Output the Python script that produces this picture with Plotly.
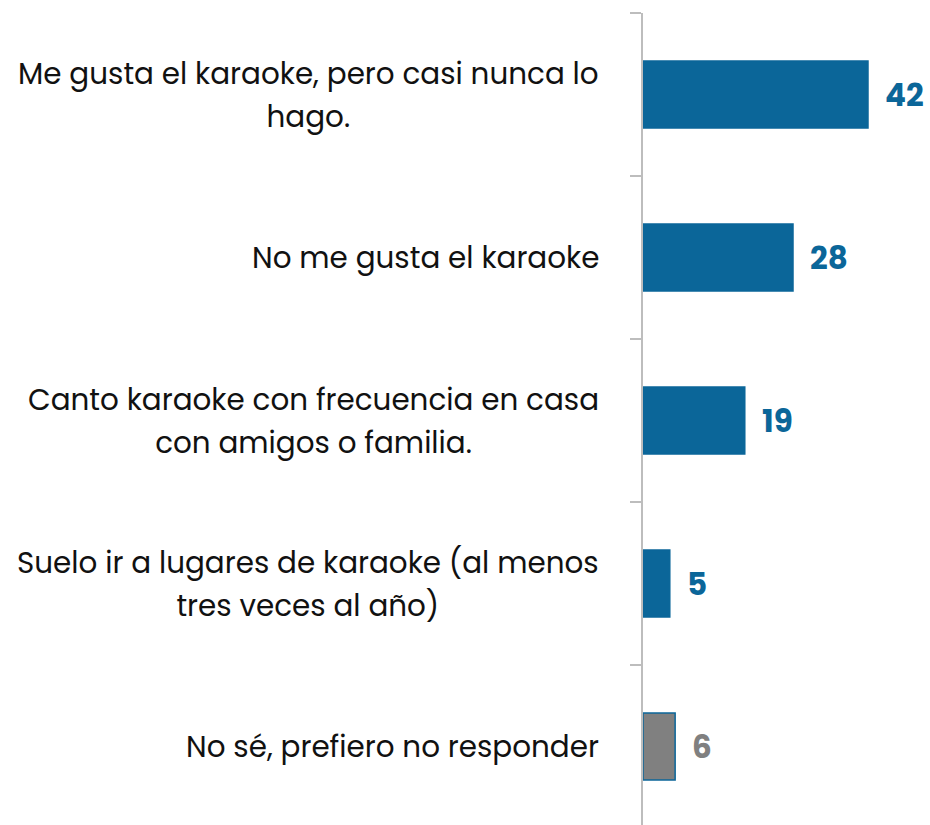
import plotly.graph_objects as go

# Survey answers about karaoke habits (%)
categories = [
    "Me gusta el karaoke, pero casi nunca lo<br>hago.",
    "No me gusta el karaoke",
    "Canto karaoke con frecuencia en casa<br>con amigos o familia.",
    "Suelo ir a lugares de karaoke (al menos<br>tres veces al año)",
    "No sé, prefiero no responder",
]
values = [42, 28, 19, 5, 6]
bar_colors = ["#0b6699", "#0b6699", "#0b6699", "#0b6699", "#808080"]
label_colors = ["#0b6699", "#0b6699", "#0b6699", "#0b6699", "#808080"]

FONT = "Poppins, Open Sans, sans-serif"
keys = [f"c{i}" for i in range(len(categories))]

fig = go.Figure(
    go.Bar(
        x=values,
        y=keys,
        orientation="h",
        width=0.41,
        marker=dict(color=bar_colors, line=dict(color="#0b6699", width=1.5)),
        hoverinfo="skip",
    )
)


def styled(label):
    # base font sets the line pitch, inner span sets the glyph size
    parts = label.split("<br>")
    return "<br>".join(f"<span style='font-size:29.4px'>{p}</span>" for p in parts)


annotations = []
for key, label, val, col in zip(keys, categories, values, label_colors):
    annotations.append(dict(
        x=0, y=key, xref="x", yref="y",
        text=styled(label), showarrow=False,
        xanchor="right", yanchor="middle", align="center",
        xshift=-42,
        font=dict(family=FONT, size=33, color="#111111"),
    ))
    annotations.append(dict(
        x=val, y=key, xref="x", yref="y",
        text=f"<b>{val}</b>", showarrow=False,
        xanchor="left", yanchor="middle", xshift=15,
        font=dict(family=FONT, size=31, color=col),
    ))

fig.update_layout(
    width=930, height=825,
    margin=dict(l=643, r=0, t=13, b=0),
    paper_bgcolor="white", plot_bgcolor="white",
    showlegend=False,
    annotations=annotations,
    xaxis=dict(range=[0, 287 / 5.357], visible=False, fixedrange=True),
    yaxis=dict(
        type="category",
        categoryorder="array", categoryarray=keys,
        range=[4.4816, -0.5],
        showticklabels=False,
        ticks="outside", tickson="boundaries", ticklen=11,
        tickcolor="#bdbdbd", tickwidth=1.5,
        showline=True, linecolor="#bdbdbd", linewidth=2,
        showgrid=False, zeroline=False, fixedrange=True,
    ),
)

fig.write_html("out.html")
